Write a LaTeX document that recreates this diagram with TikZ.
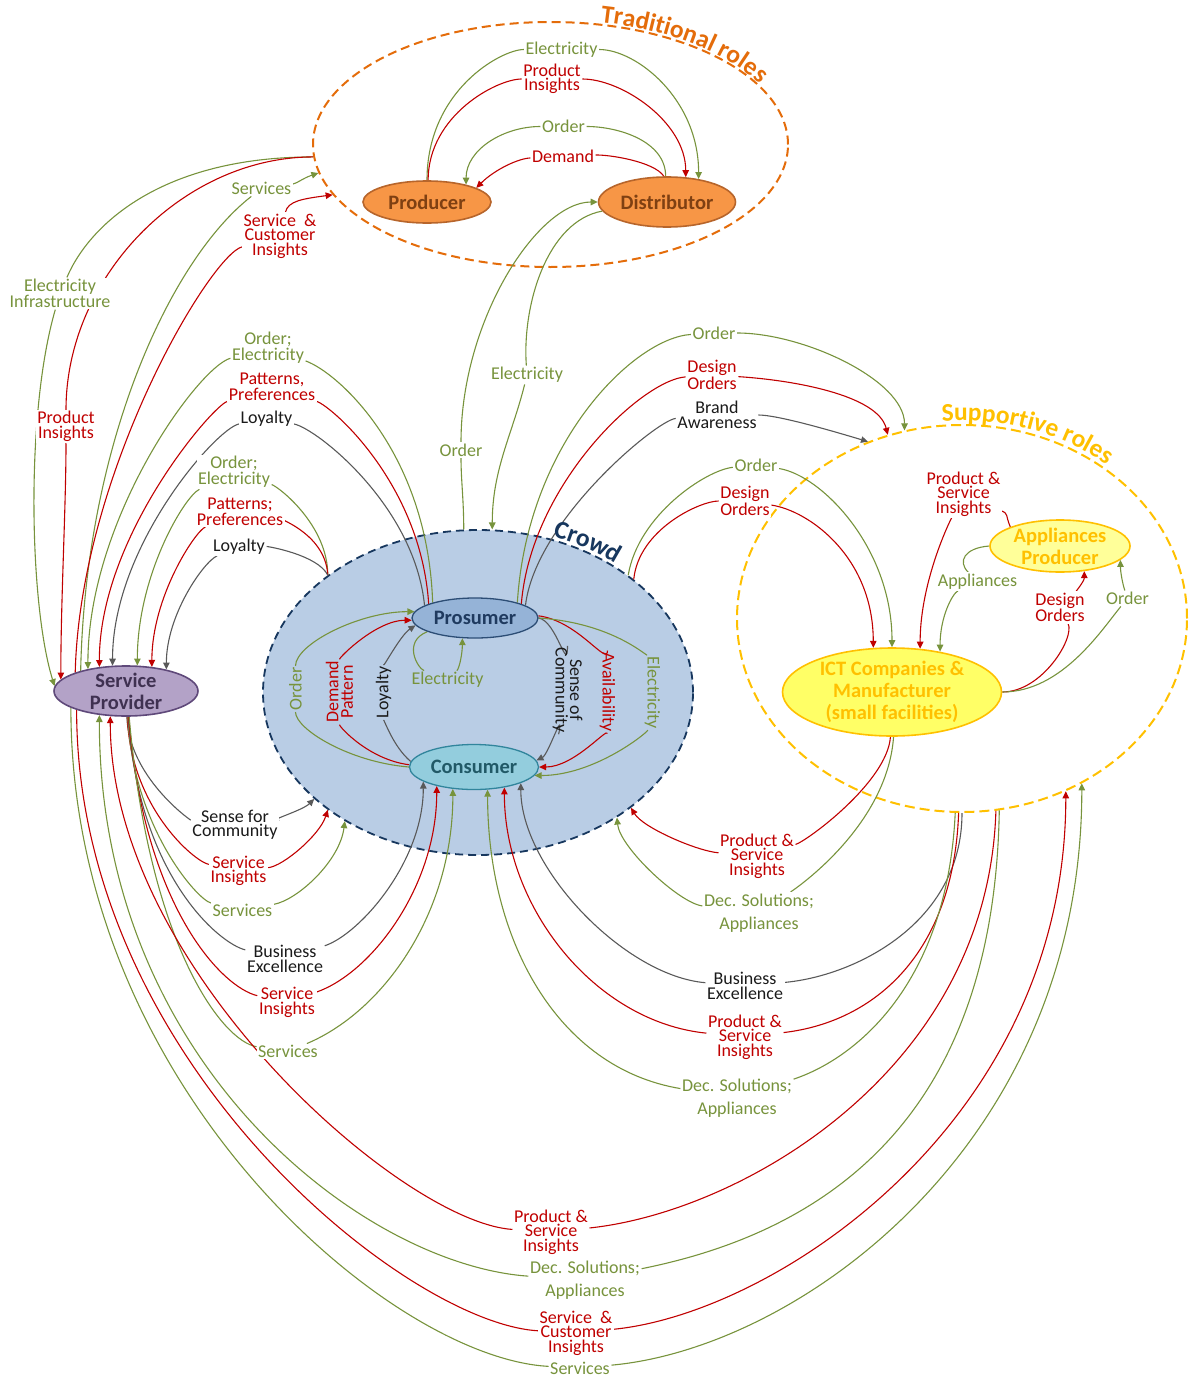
\documentclass[tikz,border=0pt]{standalone}
\usepackage{fontspec}
\setmainfont{Carlito}
\usetikzlibrary{shapes.geometric,arrows.meta,decorations.text}
\pgfdeclarelayer{back}
\pgfdeclarelayer{wires}
\pgfsetlayers{back,wires,main}
\newcommand{\lblfont}{\fontsize{18}{14.5}\selectfont}
\newcommand{\rolefont}{\fontsize{20.5}{22}\selectfont\bfseries}
\newcommand{\titlefont}{\fontsize{25.5}{25.5}\selectfont\bfseries}
\definecolor{cgreen}{HTML}{77933C}
\definecolor{cred}{HTML}{C00000}
\definecolor{cgray}{HTML}{595959}
\definecolor{ctext}{HTML}{1A1A1A}
\definecolor{ctrad}{HTML}{E46C0A}
\definecolor{prodfill}{HTML}{F79646}
\definecolor{prodline}{HTML}{B7652B}
\definecolor{prodtext}{HTML}{7F4012}
\definecolor{crowdfill}{HTML}{B9CDE5}
\definecolor{crowdline}{HTML}{17375E}
\definecolor{prosfill}{HTML}{95B3D7}
\definecolor{prosline}{HTML}{2C4D75}
\definecolor{prostext}{HTML}{1F3A5F}
\definecolor{consfill}{HTML}{93CDDD}
\definecolor{consline}{HTML}{31859C}
\definecolor{constext}{HTML}{215967}
\definecolor{spfill}{HTML}{B3A2C7}
\definecolor{spline}{HTML}{5F497A}
\definecolor{sptext}{HTML}{3F3151}
\definecolor{csupp}{HTML}{FFC000}
\definecolor{apfill}{HTML}{FFFF99}
\definecolor{ictfill}{HTML}{FFFF66}
\begin{document}
\begin{tikzpicture}[x=1pt,y=-1pt,
  lbl/.style={font=\lblfont, align=center, inner sep=1.5pt, fill=white},
  lin/.style={font=\lblfont, align=center, inner sep=1.5pt},
  tg/.style={text=cgreen}, tr/.style={text=cred}, tk/.style={text=ctext},
  wire/.style={line width=1.1pt},
  wg/.style={wire, draw=cgreen}, wr/.style={wire, draw=cred}, wk/.style={wire, draw=cgray},
  arw/.style={-{Triangle[length=7pt,width=6.5pt]}},
  roleshape/.style={ellipse, line width=1.6pt, inner xsep=0pt, inner ysep=-4pt, font=\rolefont, align=center},
  groupshape/.style={ellipse, inner sep=0pt, line width=2pt},
]
\useasboundingbox (0,0) rectangle (1189,1378);

% ---------- group outlines ----------
\begin{pgfonlayer}{back}
  \node[groupshape, draw=ctrad, dash pattern=on 9pt off 5pt, minimum width=475pt, minimum height=245pt] (trad) at (550.5,144.5) {};
  \node[groupshape, draw=crowdline, fill=crowdfill, line width=1.8pt, dash pattern=on 8pt off 5pt, minimum width=430pt, minimum height=325pt] (crowd) at (478,692.5) {};
  \node[groupshape, draw=csupp, dash pattern=on 10pt off 5pt, minimum width=450pt, minimum height=387pt] (supp) at (962,618.5) {};
\end{pgfonlayer}

% ---------- group titles (set along the outline arcs) ----------
\path[decorate, decoration={text along path, text align=left,
  text={|\titlefont\color{ctrad}|Traditional roles}}]
  (600.4,22.2) .. controls (688.7,32) and (758.9,67.5) .. (782.3,112.9);
\path[decorate, decoration={text along path, text align=left,
  text={|\titlefont\color{csupp}|Supportive roles}}]
  (942,421.3) .. controls (1030.7,414.6) and (1115.8,452.8) .. (1160.3,519.5);
\path[decorate, decoration={text along path, text align=left,
  text={|\titlefont\color{crowdline}|Crowd}}]
  (552.6,536.5) .. controls (594.6,548.2) and (631,569.4) .. (656.6,597.3);

% ---------- roles ----------
\node[roleshape, draw=prodline, fill=prodfill, text=prodtext, minimum width=128pt, minimum height=42pt] (prod) at (427,202) {Producer};
\node[roleshape, draw=prodline, fill=prodfill, text=prodtext, minimum width=137pt, minimum height=50pt] (dist) at (667,202) {Distributor};
\node[roleshape, draw=prosline, fill=prosfill, text=prostext, line width=1.3pt, minimum width=126pt, minimum height=40pt] (pros) at (475,618) {Prosumer};
\node[roleshape, draw=consline, fill=consfill, text=constext, line width=1.3pt, minimum width=129pt, minimum height=45pt] (cons) at (474,767) {Consumer};
\node[roleshape, draw=spline, fill=spfill, text=sptext, minimum width=144pt, minimum height=50pt] (sp) at (126,691) {Service\\Provider};
\node[roleshape, draw=csupp, fill=apfill, text=csupp, minimum width=140pt, minimum height=52pt] (ap) at (1060,546) {Appliances\\Producer};
\node[roleshape, draw=csupp, fill=ictfill, text=csupp, minimum width=219pt, minimum height=88pt] (ict) at (892,692) {ICT Companies \&\\Manufacturer\\(small facilities)};

% ---------- labels ----------
\node[lbl,tg] (eT)  at (561.5,49.5) {Electricity};
\node[lbl,tr] (piT) at (552,79) {Product\\Insights};
\node[lbl,tg] (oT)  at (563.5,126.5) {Order};
\node[lbl,tr] (dT)  at (563,156.5) {Demand};

\node[lbl,tg] (eiL)  at (60,293.5) {Electricity\\Infrastructure};
\node[lbl,tr] (piL)  at (66,426.5) {Product\\Insights};
\node[lbl,tg] (svT)  at (261.5,188.5) {Services};
\node[lbl,tr] (sciT) at (280,236) {Service\ \ \&\\Customer\\Insights};

\node[lbl,tg] (oC) at (461,450) {Order};
\node[lbl,tg] (eC) at (527,375) {Electricity};

\node[lbl,tg] (oe1) at (268,347.5) {Order;\\Electricity};
\node[lbl,tr] (pp1) at (272,386.5) {Patterns,\\Preferences};
\node[lbl,tk] (ly1) at (266.5,418.5) {Loyalty};
\node[lbl,tg] (oe2) at (234,472) {Order;\\Electricity};
\node[lbl,tr] (pp2) at (240,511.5) {Patterns;\\Preferences};
\node[lbl,tk] (ly2) at (239,546.5) {Loyalty};

\node[lbl,tg] (oS)  at (714,333) {Order};
\node[lbl,tr] (doS) at (712,375) {Design\\Orders};
\node[lbl,tk] (ba)  at (717,415) {Brand\\Awareness};
\node[lbl,tg] (oI)  at (756,465) {Order};
\node[lbl,tr] (doI) at (745,501) {Design\\Orders};

\node[lbl,tr] (psiA) at (963.5,494) {Product \&\\Service\\Insights};
\node[lbl,tg] (apl)  at (977.5,581.5) {Appliances};
\node[lbl,tr] (doA)  at (1060,607.5) {Design\\Orders};
\node[lbl,tg] (oA)   at (1127.5,598.5) {Order};

\node[lin,tg,rotate=90]  (oIn)  at (295.5,689) {Order};
\node[lin,tr,rotate=90]  (dpIn) at (339.5,692) {Demand\\Pattern};
\node[lin,tk,rotate=90]  (lyIn) at (383.5,692.5) {Loyalty};
\node[lin,tg]            (eIn)  at (447.5,680) {Electricity};
\node[lin,tk,rotate=-90] (soc)  at (567.5,690) {Sense of\\Community};
\node[lin,tr,rotate=-90] (av)   at (607.5,692) {Availability};
\node[lin,tg,rotate=-90] (eR)   at (652.5,692.5) {Electricity};

\node[lbl,tk] (sfc) at (235,825) {Sense for\\Community};
\node[lbl,tr] (si1) at (238.5,871) {Service\\Insights};
\node[lbl,tg] (sv1) at (242.5,910) {Services};
\node[lbl,tk] (be1) at (285,959) {Business\\Excellence};
\node[lbl,tr] (si2) at (287,1002.5) {Service\\Insights};
\node[lbl,tg] (sv2) at (288,1051.5) {Services};

\node[lbl,tr] (psi1) at (757,856) {Product \&\\Service\\Insights};
\node[lbl,tg] (dsa1) at (759,913) {Dec. Solutions;\\[7.5pt]Appliances};
\node[lbl,tk] (be2)  at (745,986) {Business\\Excellence};
\node[lbl,tr] (psi2) at (745,1037) {Product \&\\Service\\Insights};
\node[lbl,tg] (dsa2) at (737,1098) {Dec. Solutions;\\[7.5pt]Appliances};

\node[lbl,tr] (psi3) at (551,1232) {Product \&\\Service\\Insights};
\node[lbl,tg] (dsa3) at (585,1280) {Dec. Solutions;\\[7.5pt]Appliances};
\node[lbl,tr] (sci3) at (576,1333) {Service\ \ \&\\Customer\\Insights};
\node[lbl,tg] (sv3)  at (580,1368) {Services};

% ---------- connectors ----------
\begin{pgfonlayer}{wires}
% traditional roles
\draw[wg] (prod.north) .. controls +(0,-90) and +(-60,0) .. (eT);
\draw[wg,arw] (eT) .. controls +(75,0) and +(0,-80) .. (dist.36);
\draw[wr] (prod.87) .. controls +(0,-65) and +(-55,0) .. (piT);
\draw[wr,arw] (piT) .. controls +(70,0) and +(0,-55) .. (dist.53);
\draw[wg] (dist.93) .. controls +(0,-35) and +(55,0) .. (oT);
\draw[wg,arw] (oT) .. controls +(-60,0) and +(0,-35) .. (prod.24);
\draw[wr] (dist.97) .. controls +(-10,-15) and +(45,-2) .. (dT);
\draw[wr,arw] (dT) .. controls +(-45,2) and +(18,-18) .. (prod.16);

% traditional roles <-> service provider
\draw[wg] (trad.183) .. controls +(-150,0) and +(30,-70) .. (eiL);
\draw[wg,arw] (eiL) .. controls +(-35,120) and +(-25,-80) .. (sp.176);
\draw[wr] (trad.183) .. controls +(-130,0) and +(0,-150) .. (piL);
\draw[wr,arw] (piL) .. controls +(0,80) and +(0,-80) .. (sp.170);
\draw[wg] (sp.156) .. controls +(5,-230) and +(-90,70) .. (svT);
\draw[wg,arw] (svT) .. controls +(35,-5) and +(-15,5) .. (trad.187);
\draw[wr] (sp.160) .. controls +(5,-200) and +(-70,20) .. (sciT);
\draw[wr,arw] (sciT) .. controls +(8,-35) and +(-30,4) .. (trad.193);

% crowd <-> distributor
\draw[wg] (crowd.95) .. controls +(0,-30) and +(0,30) .. (oC);
\draw[wg,arw] (oC) .. controls +(0,-130) and +(-60,0) .. (dist.west);
\draw[wg] (dist.188) .. controls +(-55,10) and +(-5,-70) .. (eC);
\draw[wg,arw] (eC) .. controls +(-15,60) and +(0,-60) .. (crowd.85);

% prosumer -> service provider
\draw[wg] (pros.160) .. controls +(-5,-150) and +(70,25) .. (oe1);
\draw[wg,arw] (oe1) .. controls +(-70,20) and +(0,-150) .. (sp.150);
\draw[wr] (pros.163) .. controls +(-8,-120) and +(60,20) .. (pp1);
\draw[wr,arw] (pp1) .. controls +(-60,20) and +(0,-130) .. (sp.138);
\draw[wk] (pros.166) .. controls +(-10,-100) and +(50,10) .. (ly1);
\draw[wk,arw] (ly1) .. controls +(-50,10) and +(0,-120) .. (sp.118);

% crowd -> service provider
\draw[wg] (crowd.142) .. controls +(0,-50) and +(45,15) .. (oe2);
\draw[wg,arw] (oe2) .. controls +(-50,25) and +(0,-90) .. (sp.66);
\draw[wr] (crowd.142) .. controls +(-2,-40) and +(40,8) .. (pp2);
\draw[wr,arw] (pp2) .. controls +(-45,20) and +(0,-70) .. (sp.43);
\draw[wk] (crowd.142) .. controls +(-10,-20) and +(30,0) .. (ly2);
\draw[wk,arw] (ly2) .. controls +(-35,15) and +(0,-55) .. (sp.28);

% prosumer -> supportive roles
\draw[wg] (pros.20) .. controls +(10,-160) and +(-80,5) .. (oS);
\draw[wg,arw] (oS) .. controls +(90,0) and +(0,-50) .. (supp.107);
\draw[wr] (pros.17) .. controls +(10,-120) and +(-70,5) .. (doS);
\draw[wr,arw] (doS) .. controls +(80,5) and +(-10,-40) .. (supp.112);
\draw[wk] (pros.14) .. controls +(10,-85) and +(-60,5) .. (ba);
\draw[wk,arw] (ba) .. controls +(60,0) and +(-40,-12) .. (supp.118);

% crowd -> ICT companies
\draw[wg] (crowd.38) .. controls +(10,-60) and +(-50,5) .. (oI);
\draw[wg,arw] (oI) .. controls +(65,10) and +(0,-100) .. (ict.north);
\draw[wr] (crowd.36) .. controls +(5,-50) and +(-45,0) .. (doI);
\draw[wr,arw] (doI) .. controls +(65,10) and +(0,-90) .. (ict.113);

% inside supportive roles
\draw[wr] (ap.159) .. controls +(-5,-12) and +(45,20) .. (psiA);
\draw[wr,arw] (psiA) .. controls +(-20,40) and +(0,-60) .. (ict.57);
\draw[wg] (ap.west) .. controls +(-25,2) and +(-20,-20) .. (apl);
\draw[wg,arw] (apl) .. controls +(-25,12) and +(0,-35) .. (ict.40);
\draw[wr] (ict.east) .. controls +(40,0) and +(15,30) .. (doA);
\draw[wr,arw] (doA) .. controls +(15,-15) and +(0,10) .. (ap.314);
\draw[wg] (ict.east) .. controls +(60,0) and +(-25,30) .. (oA);
\draw[wg,arw] (oA) .. controls +(-5,-15) and +(0,12) .. (ap.347);

% inside the crowd
\draw[wg] (cons.180) .. controls +(-60,-5) and +(0,40) .. (oIn);
\draw[wg,arw] (oIn) .. controls +(0,-45) and +(-55,0) .. (pros.174);
\draw[wr] (cons.178) .. controls +(-40,-5) and +(0,35) .. (dpIn);
\draw[wr,arw] (dpIn) .. controls +(0,-35) and +(-35,0) .. (pros.182);
\draw[wk] (cons.175) .. controls +(-18,-15) and +(0,25) .. (lyIn);
\draw[wk,arw] (lyIn) .. controls +(0,-25) and +(-15,10) .. (pros.187);
\draw[wg] (pros.196) .. controls +(-25,10) and +(-30,-12) .. (eIn);
\draw[wg,arw] (eIn) .. controls +(12,-12) and +(0,15) .. (pros.238);
\draw[wk] (pros.east) .. controls +(18,3) and +(0,-15) .. (soc);
\draw[wk,arw] (soc) .. controls +(-3,15) and +(12,-6) .. (cons.6);
\draw[wr] (pros.2) .. controls +(40,5) and +(0,-25) .. (av);
\draw[wr,arw] (av) .. controls +(0,35) and +(35,0) .. (cons.east);
\draw[wg] (pros.0) .. controls +(75,5) and +(-5,-35) .. (eR);
\draw[wg,arw] (eR) .. controls +(-5,40) and +(60,0) .. (cons.352);

% service provider -> crowd
\draw[wk] (sp.272) .. controls +(2,60) and +(-45,-5) .. (sfc);
\draw[wk,arw] (sfc) .. controls +(28,-3) and +(-12,12) .. (crowd.213);
\draw[wr] (sp.273) .. controls +(3,90) and +(-45,-10) .. (si1);
\draw[wr,arw] (si1) .. controls +(45,-5) and +(-8,25) .. (crowd.218);
\draw[wg] (sp.274) .. controls +(5,110) and +(-45,-10) .. (sv1);
\draw[wg,arw] (sv1) .. controls +(55,-10) and +(-5,40) .. (crowd.224);
\draw[wk] (sp.275) .. controls +(10,160) and +(-65,-15) .. (be1);
\draw[wk,arw] (be1) .. controls +(75,-25) and +(0,80) .. (cons.196);
\draw[wr] (sp.276) .. controls +(15,190) and +(-65,-15) .. (si2);
\draw[wr,arw] (si2) .. controls +(85,-30) and +(0,100) .. (cons.207);
\draw[wg] (sp.277) .. controls +(20,230) and +(-65,-10) .. (sv2);
\draw[wg,arw] (sv2) .. controls +(95,-40) and +(0,125) .. (cons.226);

% supportive roles -> crowd
\draw[wr] (ict.268) .. controls +(-3,45) and +(50,-15) .. (psi1);
\draw[wr,arw] (psi1) .. controls +(-60,-5) and +(12,20) .. (crowd.323);
\draw[wg] (ict.272) .. controls +(-6,85) and +(45,-30) .. (dsa1);
\draw[wg,arw] (dsa1) .. controls +(-80,-10) and +(3,30) .. (crowd.318);
\draw[wk] (supp.270) .. controls +(0,110) and +(110,-10) .. (be2);
\draw[wk,arw] (be2) .. controls +(-120,-10) and +(0,85) .. (cons.341);
\draw[wr] (supp.269) .. controls +(-5,140) and +(130,-15) .. (psi2);
\draw[wr,arw] (psi2) .. controls +(-150,-15) and +(0,120) .. (cons.326);
\draw[wg] (supp.268) .. controls +(-8,170) and +(120,-40) .. (dsa2);
\draw[wg,arw] (dsa2) .. controls +(-180,-30) and +(0,150) .. (cons.301);

% supportive roles <-> service provider
\draw[wr] (supp.280) .. controls +(-8,260) and +(190,-20) .. (psi3);
\draw[wr,arw] (psi3) .. controls +(-150,-10) and +(0,250) .. (sp.238);
\draw[wg] (supp.281) .. controls +(-5,300) and +(250,-50) .. (dsa3);
\draw[wg,arw] (dsa3) .. controls +(-220,-15) and +(0,350) .. (sp.222);
\draw[wr] (sp.201) .. controls +(0,350) and +(-170,-10) .. (sci3);
\draw[wr,arw] (sci3) .. controls +(200,-20) and +(0,330) .. (supp.301);
\draw[wg] (sp.197) .. controls +(0,380) and +(-190,-10) .. (sv3);
\draw[wg,arw] (sv3) .. controls +(220,-20) and +(0,360) .. (supp.306);
\end{pgfonlayer}
\end{tikzpicture}
\end{document}
